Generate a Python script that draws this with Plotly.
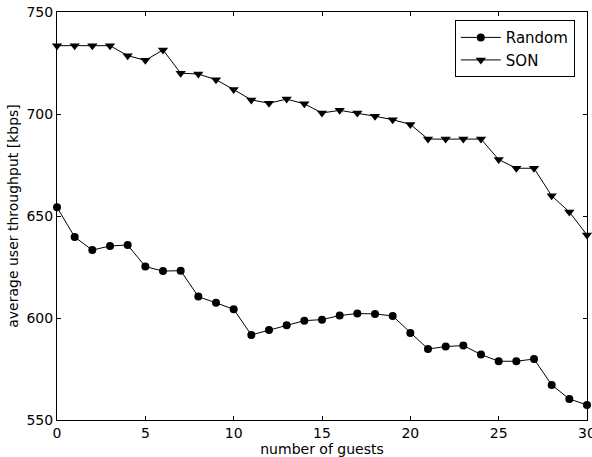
import plotly.graph_objects as go

guests = list(range(31))
random_vals = [654.3, 639.7, 633.3, 635.3, 635.8, 625.2, 623.0, 623.2, 610.5, 607.5,
               604.3, 591.7, 594.1, 596.4, 598.7, 599.2, 601.2, 602.2, 602.0, 601.0,
               592.7, 584.8, 586.0, 586.5, 582.1, 578.8, 578.8, 579.9, 567.2, 560.3, 557.4]
son_vals = [733.5, 733.5, 733.5, 733.5, 728.6, 726.3, 731.4, 720.0, 719.6, 716.8,
            712.0, 706.9, 705.3, 707.3, 705.0, 700.5, 701.8, 700.5, 698.9, 697.2,
            694.9, 687.7, 687.7, 687.7, 687.7, 677.7, 673.4, 673.4, 659.9, 652.0, 640.7]

x_ticks = [0, 5, 10, 15, 20, 25, 30]
y_ticks = [550, 600, 650, 700, 750]

font = "DejaVu Sans"

fig = go.Figure()
fig.add_trace(go.Scatter(x=guests, y=random_vals, mode="lines+markers", name="Random",
                         line=dict(color="black", width=1),
                         marker=dict(symbol="circle", size=8, color="black"),
                         cliponaxis=False))
fig.add_trace(go.Scatter(x=guests, y=son_vals, mode="lines+markers", name="SON",
                         line=dict(color="black", width=1),
                         marker=dict(symbol="triangle-down", size=9, color="black"),
                         cliponaxis=False))

axis_common = dict(showgrid=False, zeroline=False, showline=True, linecolor="black",
                   linewidth=1, mirror="allticks", ticks="inside", ticklen=4,
                   tickcolor="black", tickwidth=1, automargin=False,
                   ticklabeloverflow="allow",
                   tickfont=dict(family=font, size=14, color="black"))

fig.update_xaxes(range=[0, 30], tickvals=x_ticks,
                 title=dict(text="number of guests", font=dict(family=font, size=14, color="black"), standoff=2),
                 **axis_common)
fig.update_yaxes(range=[550, 750], tickvals=y_ticks,
                 title=dict(text="average user throughput [kbps]", font=dict(family=font, size=14, color="black"), standoff=4),
                 **axis_common)

fig.update_layout(
    width=592, height=457,
    margin=dict(l=57, r=5, t=12, b=37),
    paper_bgcolor="white", plot_bgcolor="white",
    font=dict(family=font, color="black"),
    legend=dict(x=0.977, y=0.98, xanchor="right", yanchor="top",
                bordercolor="black", borderwidth=1, bgcolor="white",
                font=dict(family=font, size=15, color="black"),
                itemwidth=40, tracegroupgap=0),
)

fig.write_html("out.html", config={"displayModeBar": False},
               post_script="document.body.style.margin='0';")
